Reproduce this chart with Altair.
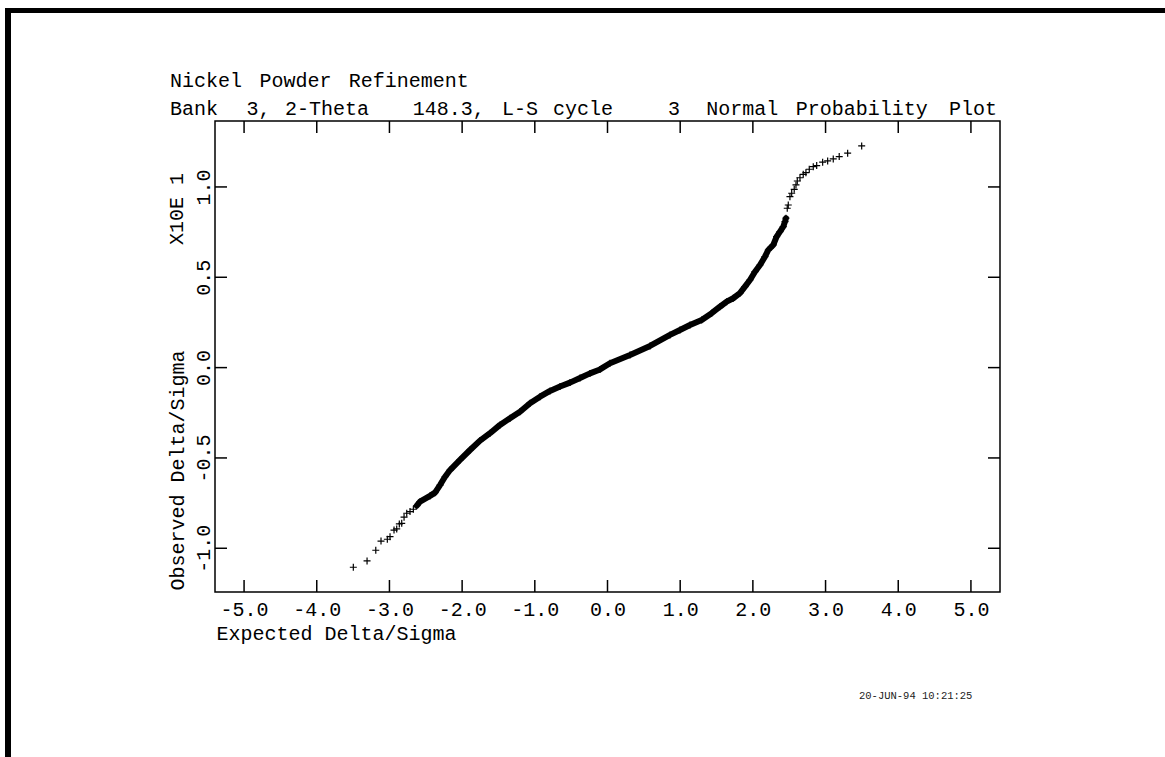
import re
import altair as alt
import pandas as pd

# ---------------- text ----------------
TITLE_1 = "Nickel Powder Refinement"
TITLE_2 = "Bank  3, 2-Theta   148.3, L-S cycle    3  Normal Probability Plot"
X_TITLE = "Expected Delta/Sigma"
Y_TITLE = "Observed Delta/Sigma"
Y_EXP = "X10E  1"
STAMP = "20-JUN-94 10:21:25"

x_ticks = [-5.0, -4.0, -3.0, -2.0, -1.0, 0.0, 1.0, 2.0, 3.0, 4.0, 5.0]
y_ticks = [-1.0, -0.5, 0.0, 0.5, 1.0]

# ---------------- data (y in units of 10) ----------------
low_tail_x = [-3.497, -3.308, -3.188, -3.116, -3.029, -2.992, -2.937, -2.900,
              -2.864, -2.831, -2.799, -2.762, -2.717, -2.671, -2.624]
low_tail_y = [-1.105, -1.070, -1.011, -0.960, -0.950, -0.936, -0.899, -0.893,
              -0.865, -0.862, -0.828, -0.806, -0.797, -0.784, -0.764]

band_x = [-2.579, -2.442, -2.373, -2.304, -2.235, -2.166, -2.029, -1.891,
          -1.754, -1.616, -1.479, -1.341, -1.204, -1.066, -0.928, -0.791,
          -0.653, -0.516, -0.378, -0.241, -0.103, 0.034, 0.310, 0.585,
          0.860, 0.997, 1.135, 1.296, 1.433, 1.547, 1.640, 1.730, 1.822,
          1.891, 1.960, 2.029, 2.098, 2.166, 2.212, 2.281, 2.327, 2.373,
          2.418, 2.442, 2.455]
band_y = [-0.742, -0.710, -0.692, -0.650, -0.604, -0.567, -0.511, -0.456,
          -0.404, -0.363, -0.317, -0.280, -0.244, -0.197, -0.161, -0.129,
          -0.105, -0.083, -0.057, -0.032, -0.010, 0.024, 0.070, 0.120,
          0.181, 0.208, 0.236, 0.264, 0.301, 0.337, 0.365, 0.384, 0.412,
          0.448, 0.485, 0.531, 0.568, 0.614, 0.651, 0.679, 0.725, 0.753,
          0.780, 0.808, 0.827]

high_tail_x = [2.473, 2.487, 2.510, 2.534, 2.569, 2.593, 2.611, 2.648, 2.693,
               2.730, 2.776, 2.831, 2.878, 2.960, 3.029, 3.106, 3.188, 3.304,
               3.497]
high_tail_y = [0.882, 0.900, 0.946, 0.965, 0.987, 1.011, 1.033, 1.051, 1.070,
               1.079, 1.098, 1.112, 1.118, 1.137, 1.144, 1.155, 1.168, 1.187,
               1.227]

# ---------------- layout ----------------
W, H = 785, 471
PAD_L, PAD_T = 215, 121
TOTAL_W, TOTAL_H = 1165, 757
FONT = "Liberation Mono"
TICK_LEN = 12

xs = alt.Scale(domain=[-5.4, 5.4], nice=False, zero=False)
ys = alt.Scale(domain=[-1.242, 1.365], nice=False, zero=False)

lab_expr = "replace(format(datum.value, '.1f'), '\u2212', '-')"

x_axis = alt.Axis(values=x_ticks, labelExpr=lab_expr, grid=False, domain=False,
                  ticks=False, tickSize=0, labelFont=FONT, labelFontSize=20,
                  labelColor="black", labelBaseline="alphabetic", labelPadding=23,
                  labelAlign="center", title=X_TITLE, titleFont=FONT,
                  titleFontSize=20, titleFontWeight="normal", titleColor="black",
                  titleX=1, titleY=47, titleAlign="left", titleBaseline="alphabetic",
                  labelFlush=False, labelOverlap=False)
y_axis = alt.Axis(values=y_ticks, labelExpr=lab_expr, grid=False, domain=False,
                  ticks=False, tickSize=0, labelFont=FONT, labelFontSize=20,
                  labelColor="black", labelAngle=270, labelAlign="center",
                  labelBaseline="middle", labelPadding=12, title=Y_TITLE,
                  titleFont=FONT, titleFontSize=20, titleFontWeight="normal",
                  titleColor="black", titleAngle=270, titleX=-38, titleY=469,
                  titleAlign="left", titleBaseline="middle",
                  labelFlush=False, labelOverlap=False)

X = alt.X("x:Q", scale=xs, axis=x_axis)
Y = alt.Y("y:Q", scale=ys, axis=y_axis)

pts = pd.DataFrame({"x": low_tail_x + band_x + high_tail_x,
                    "y": low_tail_y + band_y + high_tail_y})
line_df = pd.DataFrame({"x": low_tail_x[-1:] + band_x,
                        "y": low_tail_y[-1:] + band_y})

band = alt.Chart(line_df).mark_line(color="black", strokeWidth=6,
                                    strokeCap="round", strokeJoin="round").encode(x=X, y=Y)
cross = alt.Chart(pts).mark_point(shape="M-1,0L1,0M0,-1L0,1", size=49,
                                  filled=False, color="black", strokeWidth=1.2,
                                  opacity=1).encode(x=X, y=Y)

xt = pd.DataFrame({"x": x_ticks})
yt = pd.DataFrame({"y": y_ticks})
rule_kw = dict(color="black", strokeWidth=1.5)
t_bot = alt.Chart(xt).mark_rule(**rule_kw).encode(x=X, y=alt.value(H), y2=alt.value(H - TICK_LEN))
t_top = alt.Chart(xt).mark_rule(**rule_kw).encode(x=X, y=alt.value(0), y2=alt.value(TICK_LEN))
t_left = alt.Chart(yt).mark_rule(**rule_kw).encode(y=Y, x=alt.value(0), x2=alt.value(TICK_LEN))
t_right = alt.Chart(yt).mark_rule(**rule_kw).encode(y=Y, x=alt.value(W), x2=alt.value(W - TICK_LEN))

one = pd.DataFrame({"a": [0]})
layers = [band, cross, t_bot, t_top, t_left, t_right]

# title lines, word by word on a fixed character grid
CHAR_W = 12.77
X0 = 170 - PAD_L
for line, base in ((TITLE_1, 87 - PAD_T), (TITLE_2, 115 - PAD_T)):
    for m in re.finditer(r"\S+", line):
        layers.append(alt.Chart(one).mark_text(text=m.group(0), font=FONT, fontSize=20,
                                               align="left", baseline="alphabetic",
                                               color="black")
                      .encode(x=alt.value(X0 + m.start() * CHAR_W), y=alt.value(base)))

layers.append(alt.Chart(one).mark_text(text=Y_EXP, font=FONT, fontSize=20, angle=270,
                                       align="left", baseline="middle", color="black")
              .encode(x=alt.value(-38), y=alt.value(245 - PAD_T)))
layers.append(alt.Chart(one).mark_text(text=STAMP, font=FONT, fontSize=10.5,
                                       align="left", baseline="alphabetic", color="#222222")
              .encode(x=alt.value(859 - PAD_L), y=alt.value(699 - PAD_T)))

# page frame (thick black border at top and left)
layers.append(alt.Chart(one).mark_rule(color="black", strokeWidth=5)
              .encode(x=alt.value(5 - PAD_L), x2=alt.value(TOTAL_W - PAD_L),
                      y=alt.value(10.5 - PAD_T)))
layers.append(alt.Chart(one).mark_rule(color="black", strokeWidth=6)
              .encode(x=alt.value(8 - PAD_L), y=alt.value(8 - PAD_T),
                      y2=alt.value(TOTAL_H - PAD_T)))

chart = alt.layer(*layers).properties(
    width=W, height=H,
    autosize=alt.AutoSizeParams(type="none"),
    padding={"left": PAD_L, "top": PAD_T, "right": TOTAL_W - PAD_L - W,
             "bottom": TOTAL_H - PAD_T - H},
    background="white",
).configure_view(stroke="black", strokeWidth=1.5)

chart.save("out.html", embed_options={"renderer": "svg", "actions": False})
